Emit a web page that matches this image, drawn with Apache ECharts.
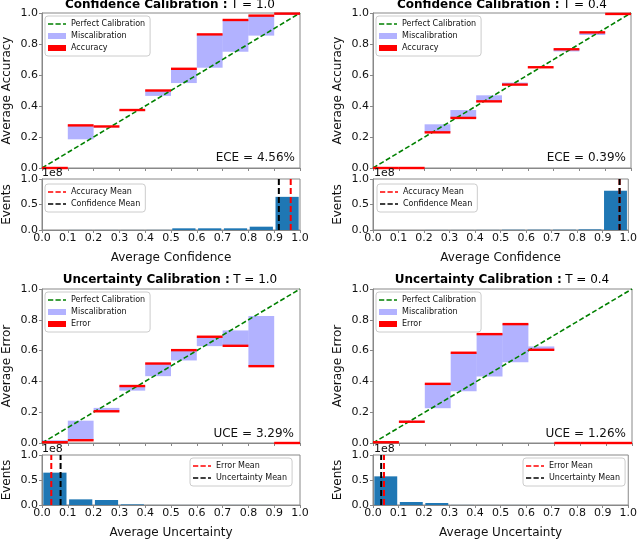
<!DOCTYPE html>
<html>
<head>
<meta charset="utf-8">
<script src="https://cdn.jsdelivr.net/npm/echarts@6/dist/echarts.min.js"></script>
<style>
html,body{margin:0;padding:0;background:#fff;}
#charts{width:640px;height:540px;}
</style>
</head>
<body>
<div id="charts"></div>
<script>
// bins (lower / upper edges)
var binLow  = [0.0, 0.1, 0.2, 0.3, 0.4, 0.5, 0.6, 0.7, 0.8, 0.9];
var binHigh = [0.1, 0.2, 0.3, 0.4, 0.5, 0.6, 0.7, 0.8, 0.9, 1.0];
var diagonal = [[0, 0], [1, 1]];

// Confidence Calibration : T = 1.0
var accT10    = [0.0, 0.275, 0.268, 0.374, 0.500, 0.640, 0.862, 0.955, 0.983, 0.996];
var confT10   = [0.0, 0.185, 0.262, 0.370, 0.465, 0.548, 0.647, 0.750, 0.854, 0.987];
var eventsConfT10 = [0.0, 0.001, 0.001, 0.001, 0.002, 0.033, 0.033, 0.033, 0.065, 0.650];
var accMeanT10 = 0.964, confMeanT10 = 0.918;

// Confidence Calibration : T = 0.4
var accT04    = [0.0, 0.0, 0.230, 0.323, 0.430, 0.538, 0.650, 0.766, 0.875, 0.994];
var confT04   = [0.0, 0.0, 0.282, 0.374, 0.469, 0.551, 0.648, 0.752, 0.858, 0.990];
var eventsConfT04 = [0.0, 0.0, 0.001, 0.001, 0.002, 0.005, 0.006, 0.006, 0.012, 0.770];
var accMeanT04 = 0.966, confMeanT04 = 0.966;

// Uncertainty Calibration : T = 1.0
var errT10    = [0.005, 0.018, 0.206, 0.370, 0.516, 0.603, 0.690, 0.631, 0.499, 0.0];
var uncT10    = [0.018, 0.145, 0.228, 0.340, 0.434, 0.536, 0.629, 0.731, 0.824, 0.0];
var eventsUncT10 = [0.647, 0.113, 0.100, 0.013, 0.001, 0.001, 0.001, 0.001, 0.001, 0.0];
var errMeanT10 = 0.036, uncMeanT10 = 0.072;

// Uncertainty Calibration : T = 0.4
var errT04    = [0.005, 0.138, 0.384, 0.586, 0.707, 0.772, 0.605, 0.0, 0.0, 0.0];
var uncT04    = [0.010, 0.145, 0.226, 0.336, 0.432, 0.525, 0.627, 0.0, 0.0, 0.0];
var eventsUncT04 = [0.573, 0.060, 0.040, 0.002, 0.001, 0.001, 0.001, 0.0, 0.0, 0.0];
var errMeanT04 = 0.043, uncMeanT04 = 0.032;

var titles = ['Confidence Calibration :', 'Confidence Calibration :', 'Uncertainty Calibration :', 'Uncertainty Calibration :'];
var temps  = ['T = 1.0', 'T = 0.4', 'T = 1.0', 'T = 0.4'];
var scores = ['ECE = 4.56%', 'ECE = 0.39%', 'UCE = 3.29%', 'UCE = 1.26%'];

var panels = [
	{upper: accT10, lower: confT10, events: eventsConfT10, meanA: accMeanT10, meanB: confMeanT10,
	 yName: 'Average Accuracy', xName: 'Average Confidence', barName: 'Accuracy', meanAName: 'Accuracy Mean', meanBName: 'Confidence Mean'},
	{upper: accT04, lower: confT04, events: eventsConfT04, meanA: accMeanT04, meanB: confMeanT04,
	 yName: 'Average Accuracy', xName: 'Average Confidence', barName: 'Accuracy', meanAName: 'Accuracy Mean', meanBName: 'Confidence Mean'},
	{upper: errT10, lower: uncT10, events: eventsUncT10, meanA: errMeanT10, meanB: uncMeanT10,
	 yName: 'Average Error', xName: 'Average Uncertainty', barName: 'Error', meanAName: 'Error Mean', meanBName: 'Uncertainty Mean'},
	{upper: errT04, lower: uncT04, events: eventsUncT04, meanA: errMeanT04, meanB: uncMeanT04,
	 yName: 'Average Error', xName: 'Average Uncertainty', barName: 'Error', meanAName: 'Error Mean', meanBName: 'Uncertainty Mean'}
];

// layout of each panel: main plot + events histogram
var layout = [
	{main: {left: 40,  top: 13,  width: 260, height: 155}, hist: {left: 40,  top: 179, width: 260, height: 51},
	 leg: [45, 16],  hleg: [45, 184],  score: [295, 158], e8: [42, 173], title: [170, 5]},
	{main: {left: 373, top: 13,  width: 258, height: 155}, hist: {left: 373, top: 179, width: 258, height: 51},
	 leg: [376, 16], hleg: [377, 184], score: [626, 158], e8: [374, 173], title: [502, 5]},
	{main: {left: 40,  top: 289, width: 260, height: 154}, hist: {left: 40,  top: 455, width: 260, height: 50},
	 leg: [45, 292], hleg: [190, 458], score: [294, 434], e8: [42, 449], title: [170, 280]},
	{main: {left: 373, top: 289, width: 259, height: 154}, hist: {left: 373, top: 455, width: 259, height: 50},
	 leg: [376, 292], hleg: [523, 458], score: [626, 434], e8: [374, 449], title: [502, 280]}
];

var FONT = 'DejaVu Sans';
var SPINE = '#888';
var dashIcon = 'path://M0,0h7v2h-7z M10,0h7v2h-7z M20,0h4v2h-4z';

function fmt1(v){ return v.toFixed(1); }

// rect between two data values
function gapItem(color){
	return function(params, api){
		var p0 = api.coord([api.value(0), api.value(2)]);
		var p1 = api.coord([api.value(1), api.value(3)]);
		return {type: 'rect',
			shape: {x: p0[0], y: Math.min(p0[1], p1[1]), width: p1[0] - p0[0], height: Math.abs(p0[1] - p1[1])},
			style: {fill: color}};
	};
}
// thin red bar at the accuracy / error level
function levelItem(color){
	return function(params, api){
		var p0 = api.coord([api.value(0), api.value(2)]);
		var p1 = api.coord([api.value(1), api.value(2)]);
		return {type: 'rect', shape: {x: p0[0], y: p0[1] - 1.2, width: p1[0] - p0[0], height: 2.4}, style: {fill: color}};
	};
}
// histogram bar
function histItem(color){
	return function(params, api){
		var p0 = api.coord([api.value(0), 0]);
		var p1 = api.coord([api.value(1), api.value(2)]);
		return {type: 'rect', shape: {x: p0[0] + 1.3, y: p1[1], width: p1[0] - p0[0] - 2.6, height: p0[1] - p1[1]}, style: {fill: color}};
	};
}

function axisBase(gi){
	return {
		type: 'value', gridIndex: gi, min: 0, max: 1,
		axisLine: {show: true, lineStyle: {color: SPINE, width: 1}},
		axisTick: {show: true, length: 3, lineStyle: {color: SPINE}},
		splitLine: {show: false},
		axisLabel: {color: '#111', fontSize: 11, fontFamily: FONT, formatter: fmt1}
	};
}

function legendBase(pos, items){
	return {
		orient: 'vertical', left: pos[0], top: pos[1],
		itemWidth: 18, itemHeight: 6, itemGap: 2, itemTextGap: 6,
		padding: [3, 5, 3, 3],
		borderColor: '#ccc', borderWidth: 1, borderRadius: 3,
		backgroundColor: 'rgba(255,255,255,0.8)',
		textStyle: {fontSize: 8, color: '#111', fontFamily: FONT, lineHeight: 10},
		selectedMode: false,
		data: items
	};
}

var grids = [], xAxes = [], yAxes = [], series = [], legends = [], graphics = [];

for (var p = 0; p < panels.length; p++) {
	var d = panels[p], L = layout[p];
	var gm = 2 * p, gh = 2 * p + 1;
	grids.push({left: L.main.left, top: L.main.top, width: L.main.width, height: L.main.height, show: true, borderColor: SPINE, borderWidth: 1});
	grids.push({left: L.hist.left, top: L.hist.top, width: L.hist.width, height: L.hist.height, show: true, borderColor: SPINE, borderWidth: 1});

	// main axes
	var xm = axisBase(gm); xm.interval = 0.1; xm.axisLabel.show = false;
	var ym = axisBase(gm); ym.interval = 0.2; ym.axisLabel.margin = 4;
	ym.name = d.yName; ym.nameLocation = 'middle'; ym.nameGap = 29;
	ym.nameTextStyle = {fontSize: 12, color: '#111', fontFamily: FONT};
	// histogram axes
	var xh = axisBase(gh); xh.interval = 0.1; xh.axisLabel.margin = 3;
	xh.name = d.xName; xh.nameLocation = 'middle'; xh.nameGap = 22;
	xh.nameTextStyle = {fontSize: 12, color: '#111', fontFamily: FONT};
	var yh = axisBase(gh); yh.interval = 0.5; yh.axisLabel.margin = 4;
	yh.name = 'Events'; yh.nameLocation = 'middle'; yh.nameGap = 29;
	yh.nameTextStyle = {fontSize: 12, color: '#111', fontFamily: FONT};
	xAxes.push(xm, xh); yAxes.push(ym, yh);

	var gapData = [], levelData = [], histData = [];
	for (var i = 0; i < binLow.length; i++) {
		gapData.push([binLow[i], binHigh[i], d.lower[i], d.upper[i]]);
		levelData.push([binLow[i], binHigh[i], d.upper[i]]);
		histData.push([binLow[i], binHigh[i], d.events[i]]);
	}

	series.push({
		name: 'Miscalibration', type: 'custom', xAxisIndex: gm, yAxisIndex: gm,
		renderItem: gapItem('rgba(0,0,255,0.3)'), itemStyle: {color: 'rgba(0,0,255,0.3)'},
		encode: {x: [0, 1], y: [2, 3]}, data: gapData, z: 2, silent: true
	});
	series.push({
		name: 'Perfect Calibration', type: 'line', xAxisIndex: gm, yAxisIndex: gm,
		data: diagonal, symbol: 'none', z: 3, silent: true,
		itemStyle: {color: '#008000'}, lineStyle: {color: '#008000', width: 1.6, type: [5, 2.5]}
	});
	series.push({
		name: d.barName, type: 'custom', xAxisIndex: gm, yAxisIndex: gm,
		renderItem: levelItem('#ff0000'), itemStyle: {color: '#ff0000'},
		encode: {x: [0, 1], y: 2}, data: levelData, z: 4, silent: true
	});
	series.push({
		name: 'Events', type: 'custom', xAxisIndex: gh, yAxisIndex: gh,
		renderItem: histItem('#1f77b4'), itemStyle: {color: '#1f77b4'},
		encode: {x: [0, 1], y: 2}, data: histData, z: 2, silent: true
	});
	series.push({
		name: d.meanAName, type: 'line', xAxisIndex: gh, yAxisIndex: gh,
		data: [[d.meanA, 0], [d.meanA, 1]], symbol: 'none', z: 3, silent: true,
		itemStyle: {color: '#ff0000'}, lineStyle: {color: '#ff0000', width: 2, type: [6, 3]}
	});
	series.push({
		name: d.meanBName, type: 'line', xAxisIndex: gh, yAxisIndex: gh,
		data: [[d.meanB, 0], [d.meanB, 1]], symbol: 'none', z: 4, silent: true,
		itemStyle: {color: '#000'}, lineStyle: {color: '#000', width: 2, type: [6, 3]}
	});

	legends.push(legendBase(L.leg, [
		{name: 'Perfect Calibration', icon: dashIcon},
		{name: 'Miscalibration', icon: 'rect'},
		{name: d.barName, icon: 'rect'}
	]));
	legends.push(legendBase(L.hleg, [
		{name: d.meanAName, icon: dashIcon},
		{name: d.meanBName, icon: dashIcon}
	]));

	graphics.push({
		type: 'text', x: L.title[0], y: L.title[1], z: 10,
		style: {
			text: '{b|' + titles[p] + '} {n|' + temps[p] + '}',
			align: 'center', verticalAlign: 'middle', textAlign: 'center', textVerticalAlign: 'middle',
			rich: {
				b: {fontWeight: 'bold', fontSize: 12, fontFamily: FONT, fill: '#000'},
				n: {fontSize: 12, fontFamily: FONT, fill: '#000'}
			}
		}
	});
	graphics.push({
		type: 'text', x: L.score[0], y: L.score[1], z: 10,
		style: {text: scores[p], font: '12px "DejaVu Sans"', fill: '#111',
			align: 'right', verticalAlign: 'middle', textAlign: 'right', textVerticalAlign: 'middle'}
	});
	graphics.push({
		type: 'text', x: L.e8[0], y: L.e8[1], z: 10,
		style: {text: '1e8', font: '11px "DejaVu Sans"', fill: '#111',
			align: 'left', verticalAlign: 'middle', textAlign: 'left', textVerticalAlign: 'middle'}
	});
}

var charts = echarts.init(document.getElementById('charts'));
var option = {
	animation: false,
	backgroundColor: '#fff',
	textStyle: {fontFamily: FONT},
	grid: grids,
	xAxis: xAxes,
	yAxis: yAxes,
	legend: legends,
	series: series,
	graphic: graphics
};
charts.setOption(option);
</script>
</body>
</html>
